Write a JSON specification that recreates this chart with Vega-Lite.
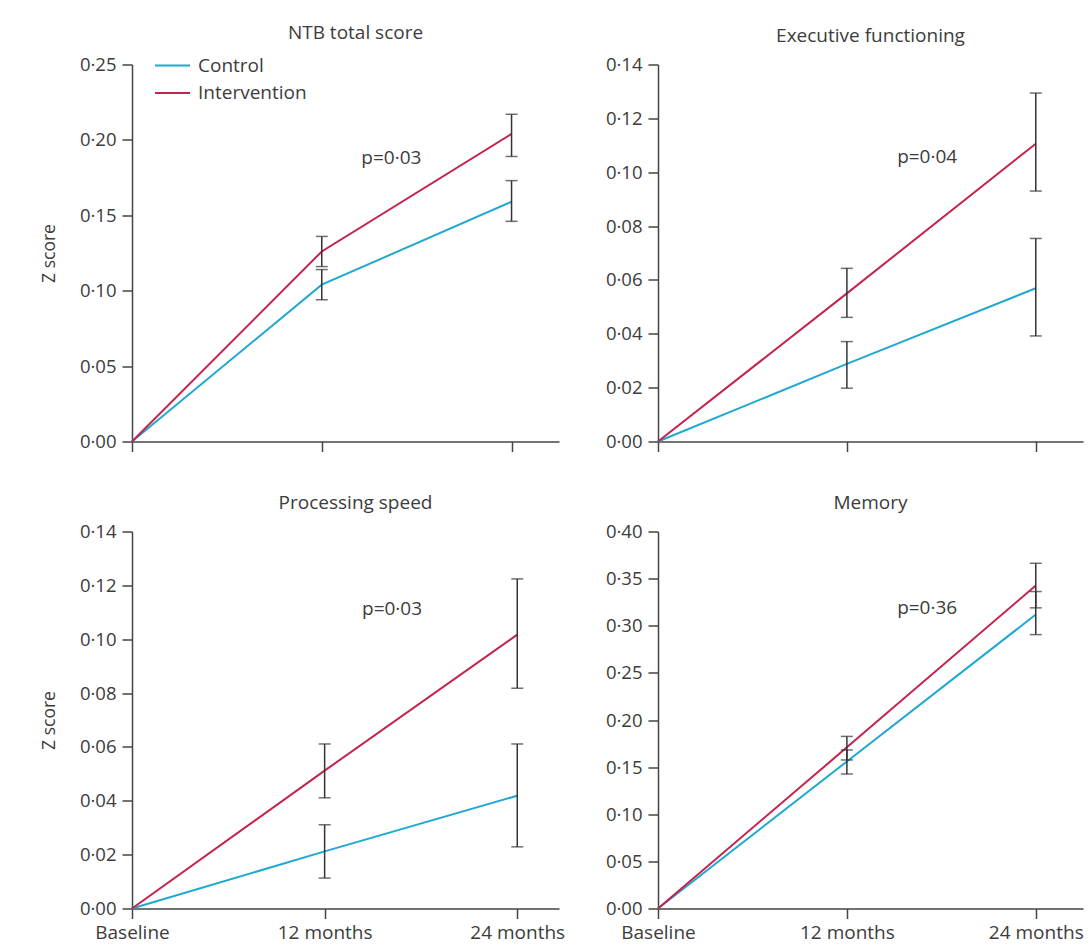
{
  "$schema": "https://vega.github.io/schema/vega-lite/v6.json",
  "padding": {"left": 40, "top": 23.5, "right": 5, "bottom": 5},
  "background": "white",
  "datasets": {
    "scores": [
      {"panel": "NTB", "group": "Control", "month": 0, "z": 0, "lo": null, "hi": null},
      {"panel": "NTB", "group": "Control", "month": 12, "z": 0.104, "lo": 0.094, "hi": 0.114},
      {"panel": "NTB", "group": "Control", "month": 24, "z": 0.159, "lo": 0.146, "hi": 0.173},
      {"panel": "NTB", "group": "Intervention", "month": 0, "z": 0, "lo": null, "hi": null},
      {"panel": "NTB", "group": "Intervention", "month": 12, "z": 0.126, "lo": 0.116, "hi": 0.136},
      {"panel": "NTB", "group": "Intervention", "month": 24, "z": 0.204, "lo": 0.189, "hi": 0.217},
      {"panel": "EF", "group": "Control", "month": 0, "z": 0, "lo": null, "hi": null},
      {"panel": "EF", "group": "Control", "month": 12, "z": 0.0288, "lo": 0.0198, "hi": 0.0371},
      {"panel": "EF", "group": "Control", "month": 24, "z": 0.0569, "lo": 0.0392, "hi": 0.0754},
      {"panel": "EF", "group": "Intervention", "month": 0, "z": 0, "lo": null, "hi": null},
      {"panel": "EF", "group": "Intervention", "month": 12, "z": 0.055, "lo": 0.0461, "hi": 0.0643},
      {"panel": "EF", "group": "Intervention", "month": 24, "z": 0.1106, "lo": 0.093, "hi": 0.1294},
      {"panel": "PS", "group": "Control", "month": 0, "z": 0, "lo": null, "hi": null},
      {"panel": "PS", "group": "Control", "month": 12, "z": 0.0212, "lo": 0.0113, "hi": 0.0311},
      {"panel": "PS", "group": "Control", "month": 24, "z": 0.0419, "lo": 0.0229, "hi": 0.0611},
      {"panel": "PS", "group": "Intervention", "month": 0, "z": 0, "lo": null, "hi": null},
      {"panel": "PS", "group": "Intervention", "month": 12, "z": 0.0512, "lo": 0.0411, "hi": 0.0611},
      {"panel": "PS", "group": "Intervention", "month": 24, "z": 0.1017, "lo": 0.0818, "hi": 0.1224},
      {"panel": "MEM", "group": "Control", "month": 0, "z": 0, "lo": null, "hi": null},
      {"panel": "MEM", "group": "Control", "month": 12, "z": 0.156, "lo": 0.1427, "hi": 0.1682},
      {"panel": "MEM", "group": "Control", "month": 24, "z": 0.3119, "lo": 0.2906, "hi": 0.3363},
      {"panel": "MEM", "group": "Intervention", "month": 0, "z": 0, "lo": null, "hi": null},
      {"panel": "MEM", "group": "Intervention", "month": 12, "z": 0.171, "lo": 0.1576, "hi": 0.1826},
      {"panel": "MEM", "group": "Intervention", "month": 24, "z": 0.3427, "lo": 0.319, "hi": 0.3663}
    ],
    "notes": [
      {"panel": "NTB", "month": 16.4, "z": 0.188, "label": "p=0·03"},
      {"panel": "EF", "month": 17.1, "z": 0.1056, "label": "p=0·04"},
      {"panel": "PS", "month": 16.2, "z": 0.1113, "label": "p=0·03"},
      {"panel": "MEM", "month": 17.1, "z": 0.3186, "label": "p=0·36"}
    ]
  },
  "columns": 2,
  "bounds": "flush",
  "spacing": {"row": 90, "column": 99},
  "resolve": {"scale": {"color": "independent"}, "legend": {"color": "independent"}},
  "concat": [
    {
      "width": 427, "height": 377,
      "title": {"text": "NTB total score", "dx": 10},
      "layer": [
        {
          "data": {"name": "scores"},
          "transform": [{"filter": "datum.panel === 'NTB'"}],
          "mark": {"type": "line", "strokeWidth": 2},
          "encoding": {
            "x": {"field": "month", "type": "quantitative", "scale": {"domain": [0, 27], "nice": false},
                  "axis": {"title": null, "values": [0, 12, 24], "labels": false}},
            "y": {"field": "z", "type": "quantitative", "scale": {"domain": [0, 0.25], "nice": false},
                  "axis": {"title": "Z score", "values": [0, 0.05, 0.1, 0.15, 0.2, 0.25]}},
            "color": {"field": "group", "type": "nominal",
                      "scale": {"domain": ["Control", "Intervention"], "range": ["#1fa8d2", "#c4234c"]},
                      "legend": {"title": null, "orient": "none", "legendX": 27, "legendY": -12.5, "padding": 0,
                                 "symbolType": "M-1.4,0H1.4", "symbolSize": 625, "symbolStrokeWidth": 2,
                                 "labelOffset": 12, "rowPadding": 3.6, "labelFontSize": 19, "labelColor": "#3c3c3c",
                                 "labelFont": "Open Sans"}}
          }
        },
        {
          "data": {"name": "scores"},
          "transform": [{"filter": "datum.panel === 'NTB' && datum.month > 0"}],
          "mark": {"type": "rule", "color": "#333333", "strokeWidth": 1.5},
          "encoding": {"x": {"field": "month", "type": "quantitative"}, "y": {"field": "lo", "type": "quantitative"}, "y2": {"field": "hi"}}
        },
        {
          "data": {"name": "scores"},
          "transform": [{"filter": "datum.panel === 'NTB' && datum.month > 0"}],
          "mark": {"type": "tick", "orient": "horizontal", "color": "#333333", "size": 12, "thickness": 1.5},
          "encoding": {"x": {"field": "month", "type": "quantitative"}, "y": {"field": "lo", "type": "quantitative"}}
        },
        {
          "data": {"name": "scores"},
          "transform": [{"filter": "datum.panel === 'NTB' && datum.month > 0"}],
          "mark": {"type": "tick", "orient": "horizontal", "color": "#333333", "size": 12, "thickness": 1.5},
          "encoding": {"x": {"field": "month", "type": "quantitative"}, "y": {"field": "hi", "type": "quantitative"}}
        },
        {
          "data": {"name": "notes"},
          "transform": [{"filter": "datum.panel === 'NTB'"}],
          "mark": {"type": "text", "fontSize": 19, "color": "#3c3c3c", "align": "center", "baseline": "middle"},
          "encoding": {"x": {"field": "month", "type": "quantitative"}, "y": {"field": "z", "type": "quantitative"}, "text": {"field": "label"}}
        }
      ]
    },
    {
      "width": 425, "height": 377,
      "title": {"text": "Executive functioning"},
      "layer": [
        {
          "data": {"name": "scores"},
          "transform": [{"filter": "datum.panel === 'EF'"}],
          "mark": {"type": "line", "strokeWidth": 2},
          "encoding": {
            "x": {"field": "month", "type": "quantitative", "scale": {"domain": [0, 27], "nice": false},
                  "axis": {"title": null, "values": [0, 12, 24], "labels": false}},
            "y": {"field": "z", "type": "quantitative", "scale": {"domain": [0, 0.14], "nice": false},
                  "axis": {"title": null, "values": [0, 0.02, 0.04, 0.06, 0.08, 0.1, 0.12, 0.14]}},
            "color": {"field": "group", "type": "nominal",
                      "scale": {"domain": ["Control", "Intervention"], "range": ["#1fa8d2", "#c4234c"]}, "legend": null}
          }
        },
        {
          "data": {"name": "scores"},
          "transform": [{"filter": "datum.panel === 'EF' && datum.month > 0"}],
          "mark": {"type": "rule", "color": "#333333", "strokeWidth": 1.5},
          "encoding": {"x": {"field": "month", "type": "quantitative"}, "y": {"field": "lo", "type": "quantitative"}, "y2": {"field": "hi"}}
        },
        {
          "data": {"name": "scores"},
          "transform": [{"filter": "datum.panel === 'EF' && datum.month > 0"}],
          "mark": {"type": "tick", "orient": "horizontal", "color": "#333333", "size": 12, "thickness": 1.5},
          "encoding": {"x": {"field": "month", "type": "quantitative"}, "y": {"field": "lo", "type": "quantitative"}}
        },
        {
          "data": {"name": "scores"},
          "transform": [{"filter": "datum.panel === 'EF' && datum.month > 0"}],
          "mark": {"type": "tick", "orient": "horizontal", "color": "#333333", "size": 12, "thickness": 1.5},
          "encoding": {"x": {"field": "month", "type": "quantitative"}, "y": {"field": "hi", "type": "quantitative"}}
        },
        {
          "data": {"name": "notes"},
          "transform": [{"filter": "datum.panel === 'EF'"}],
          "mark": {"type": "text", "fontSize": 19, "color": "#3c3c3c", "align": "center", "baseline": "middle"},
          "encoding": {"x": {"field": "month", "type": "quantitative"}, "y": {"field": "z", "type": "quantitative"}, "text": {"field": "label"}}
        }
      ]
    },
    {
      "width": 427, "height": 377,
      "title": {"text": "Processing speed", "dx": 10},
      "layer": [
        {
          "data": {"name": "scores"},
          "transform": [{"filter": "datum.panel === 'PS'"}],
          "mark": {"type": "line", "strokeWidth": 2},
          "encoding": {
            "x": {"field": "month", "type": "quantitative", "scale": {"domain": [0, 26.6], "nice": false},
                  "axis": {"title": null, "values": [0, 12, 24]}},
            "y": {"field": "z", "type": "quantitative", "scale": {"domain": [0, 0.14], "nice": false},
                  "axis": {"title": "Z score", "values": [0, 0.02, 0.04, 0.06, 0.08, 0.1, 0.12, 0.14]}},
            "color": {"field": "group", "type": "nominal",
                      "scale": {"domain": ["Control", "Intervention"], "range": ["#1fa8d2", "#c4234c"]}, "legend": null}
          }
        },
        {
          "data": {"name": "scores"},
          "transform": [{"filter": "datum.panel === 'PS' && datum.month > 0"}],
          "mark": {"type": "rule", "color": "#333333", "strokeWidth": 1.5},
          "encoding": {"x": {"field": "month", "type": "quantitative"}, "y": {"field": "lo", "type": "quantitative"}, "y2": {"field": "hi"}}
        },
        {
          "data": {"name": "scores"},
          "transform": [{"filter": "datum.panel === 'PS' && datum.month > 0"}],
          "mark": {"type": "tick", "orient": "horizontal", "color": "#333333", "size": 12, "thickness": 1.5},
          "encoding": {"x": {"field": "month", "type": "quantitative"}, "y": {"field": "lo", "type": "quantitative"}}
        },
        {
          "data": {"name": "scores"},
          "transform": [{"filter": "datum.panel === 'PS' && datum.month > 0"}],
          "mark": {"type": "tick", "orient": "horizontal", "color": "#333333", "size": 12, "thickness": 1.5},
          "encoding": {"x": {"field": "month", "type": "quantitative"}, "y": {"field": "hi", "type": "quantitative"}}
        },
        {
          "data": {"name": "notes"},
          "transform": [{"filter": "datum.panel === 'PS'"}],
          "mark": {"type": "text", "fontSize": 19, "color": "#3c3c3c", "align": "center", "baseline": "middle"},
          "encoding": {"x": {"field": "month", "type": "quantitative"}, "y": {"field": "z", "type": "quantitative"}, "text": {"field": "label"}}
        }
      ]
    },
    {
      "width": 425, "height": 377,
      "title": {"text": "Memory"},
      "layer": [
        {
          "data": {"name": "scores"},
          "transform": [{"filter": "datum.panel === 'MEM'"}],
          "mark": {"type": "line", "strokeWidth": 2},
          "encoding": {
            "x": {"field": "month", "type": "quantitative", "scale": {"domain": [0, 27], "nice": false},
                  "axis": {"title": null, "values": [0, 12, 24]}},
            "y": {"field": "z", "type": "quantitative", "scale": {"domain": [0, 0.4], "nice": false},
                  "axis": {"title": null, "values": [0, 0.05, 0.1, 0.15, 0.2, 0.25, 0.3, 0.35, 0.4]}},
            "color": {"field": "group", "type": "nominal",
                      "scale": {"domain": ["Control", "Intervention"], "range": ["#1fa8d2", "#c4234c"]}, "legend": null}
          }
        },
        {
          "data": {"name": "scores"},
          "transform": [{"filter": "datum.panel === 'MEM' && datum.month > 0"}],
          "mark": {"type": "rule", "color": "#333333", "strokeWidth": 1.5},
          "encoding": {"x": {"field": "month", "type": "quantitative"}, "y": {"field": "lo", "type": "quantitative"}, "y2": {"field": "hi"}}
        },
        {
          "data": {"name": "scores"},
          "transform": [{"filter": "datum.panel === 'MEM' && datum.month > 0"}],
          "mark": {"type": "tick", "orient": "horizontal", "color": "#333333", "size": 12, "thickness": 1.5},
          "encoding": {"x": {"field": "month", "type": "quantitative"}, "y": {"field": "lo", "type": "quantitative"}}
        },
        {
          "data": {"name": "scores"},
          "transform": [{"filter": "datum.panel === 'MEM' && datum.month > 0"}],
          "mark": {"type": "tick", "orient": "horizontal", "color": "#333333", "size": 12, "thickness": 1.5},
          "encoding": {"x": {"field": "month", "type": "quantitative"}, "y": {"field": "hi", "type": "quantitative"}}
        },
        {
          "data": {"name": "notes"},
          "transform": [{"filter": "datum.panel === 'MEM'"}],
          "mark": {"type": "text", "fontSize": 19, "color": "#3c3c3c", "align": "center", "baseline": "middle"},
          "encoding": {"x": {"field": "month", "type": "quantitative"}, "y": {"field": "z", "type": "quantitative"}, "text": {"field": "label"}}
        }
      ]
    }
  ],
  "config": {
    "font": "Open Sans",
    "view": {"stroke": null},
    "title": {"fontSize": 19, "fontWeight": "normal", "color": "#3c3c3c", "font": "Open Sans", "anchor": "middle", "baseline": "alphabetic", "offset": 9.5},
    "axis": {
      "grid": false,
      "domainColor": "#444444", "domainWidth": 1.5,
      "tickColor": "#444444", "tickWidth": 1.5, "tickSize": 10,
      "labelColor": "#3c3c3c", "labelFont": "Open Sans", "labelFontSize": 18.5, "labelFlush": false, "labelOverlap": false,
      "titleColor": "#3c3c3c", "titleFont": "Open Sans", "titleFontSize": 17.5, "titleFontWeight": "normal"
    },
    "axisX": {"labelPadding": 5, "labelFontSize": 19, "labelExpr": "datum.value === 0 ? 'Baseline' : datum.value + ' months'"},
    "axisY": {"labelPadding": 6, "titlePadding": 21, "labelExpr": "replace(format(datum.value, '.2f'), '.', '·')"}
  }
}
